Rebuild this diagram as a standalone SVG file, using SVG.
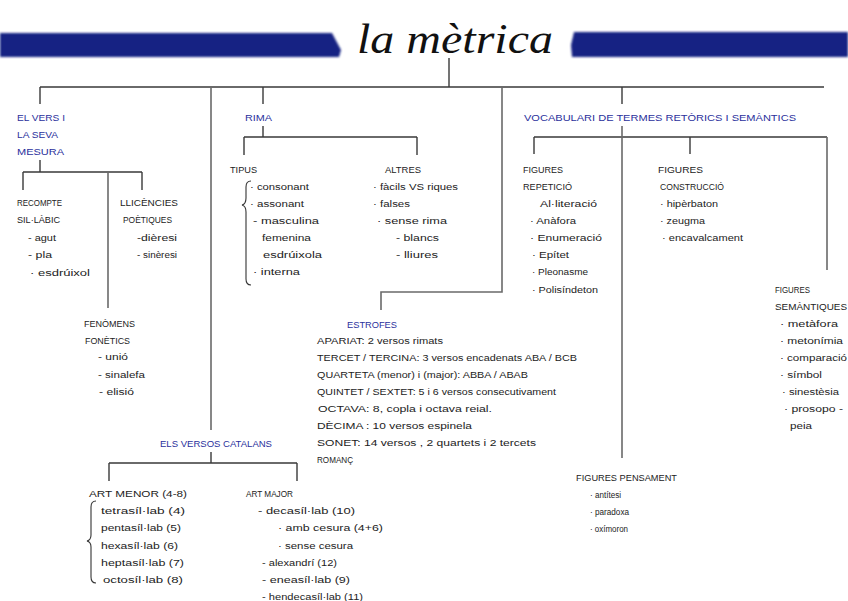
<svg xmlns="http://www.w3.org/2000/svg" width="848" height="601" viewBox="0 0 848 601">
<style>
.t{font-family:"Liberation Sans","DejaVu Sans",sans-serif;font-size:8.5px;fill:#222}
.b{font-family:"Liberation Sans","DejaVu Sans",sans-serif;font-size:8.5px;fill:#2a2f9c}
.ln{stroke:#3a3a3a;stroke-width:1.4;fill:none}
.lg{stroke:#6a6a6a;stroke-width:1.6;fill:none}
.br{stroke:#333;stroke-width:1.1;fill:none}
.bar{fill:#172383}
</style>
<defs>
<filter id="soft" x="-5%" y="-20%" width="110%" height="140%"><feGaussianBlur stdDeviation="0.8"/></filter>
</defs>
<rect width="848" height="601" fill="#ffffff"/>
<g id="title">
<polygon class="bar" filter="url(#soft)" points="0,33 332,33 341,50 339,57 0,57"/>
<polygon class="bar" filter="url(#soft)" points="574,32 848,32 848,57 572,57 571,45"/>
<text x="455" y="53" text-anchor="middle" font-family="Liberation Serif, serif" font-style="italic" font-size="42" fill="#111" textLength="196" lengthAdjust="spacingAndGlyphs">la mètrica</text>
</g>
<g id="connectors">
<path class="ln" d="M449 58V87M40 87H824M40 87V104M263 87V104M622 87V104"/>
<path class="lg" d="M211 87V430M502 87V292H381V310"/>
<path class="ln" d="M40 160V172M23 172H142M23 172V190M142 172V190"/>
<path class="lg" d="M108 172V308"/>
<path class="ln" d="M263 126V137M244 137H417M244 137V155M417 137V155"/>
<path class="ln" d="M534 137H827M534 137V154M690 137V154"/>
<path class="lg" d="M622 126V458M827 137V270"/>
<path class="ln" d="M211 452V463M109 463H297M109 463V481M297 463V481"/>
</g>
<g id="vers-mesura">
<text class="b" x="17" y="121" textLength="48" lengthAdjust="spacingAndGlyphs">EL VERS I</text>
<text class="b" x="17" y="138" textLength="41" lengthAdjust="spacingAndGlyphs">LA SEVA</text>
<text class="b" x="17" y="155" textLength="47" lengthAdjust="spacingAndGlyphs">MESURA</text>
</g>
<g id="recompte">
<text class="t" x="17" y="206" textLength="45" lengthAdjust="spacingAndGlyphs">RECOMPTE</text>
<text class="t" x="17" y="223" textLength="43" lengthAdjust="spacingAndGlyphs">SIL·LÀBIC</text>
<text class="t" x="28" y="241" textLength="28" lengthAdjust="spacingAndGlyphs">- agut</text>
<text class="t" x="28" y="258" textLength="24" lengthAdjust="spacingAndGlyphs">- pla</text>
<text class="t" x="30" y="276" textLength="60" lengthAdjust="spacingAndGlyphs">· esdrúixol</text>
</g>
<g id="llicencies">
<text class="t" x="120" y="206" textLength="58" lengthAdjust="spacingAndGlyphs">LLICÈNCIES</text>
<text class="t" x="123" y="223" textLength="49" lengthAdjust="spacingAndGlyphs">POÈTIQUES</text>
<text class="t" x="137" y="241" textLength="40" lengthAdjust="spacingAndGlyphs">-dièresi</text>
<text class="t" x="137" y="258" textLength="40" lengthAdjust="spacingAndGlyphs">- sinèresi</text>
</g>
<g id="fenomens">
<text class="t" x="84" y="327" textLength="51" lengthAdjust="spacingAndGlyphs">FENÒMENS</text>
<text class="t" x="85" y="344" textLength="45" lengthAdjust="spacingAndGlyphs">FONÈTICS</text>
<text class="t" x="98" y="360" textLength="30" lengthAdjust="spacingAndGlyphs">- unió</text>
<text class="t" x="98" y="378" textLength="47" lengthAdjust="spacingAndGlyphs">- sinalefa</text>
<text class="t" x="99" y="395" textLength="35" lengthAdjust="spacingAndGlyphs">- elisió</text>
</g>
<g id="rima">
<text class="b" x="245" y="121" textLength="27" lengthAdjust="spacingAndGlyphs">RIMA</text>
</g>
<g id="tipus">
<text class="t" x="230" y="173" textLength="27" lengthAdjust="spacingAndGlyphs">TIPUS</text>
<path class="br" d="M251 181Q246 181 246 187V198Q246 204 242 205Q246 206 246 212V279Q246 285 251 285"/>
<text class="t" x="250" y="190" textLength="59" lengthAdjust="spacingAndGlyphs">· consonant</text>
<text class="t" x="250" y="207" textLength="54" lengthAdjust="spacingAndGlyphs">· assonant</text>
<text class="t" x="253" y="224" textLength="66" lengthAdjust="spacingAndGlyphs">-  masculina</text>
<text class="t" x="262" y="241" textLength="49" lengthAdjust="spacingAndGlyphs">femenina</text>
<text class="t" x="263" y="258" textLength="59" lengthAdjust="spacingAndGlyphs">esdrúixola</text>
<text class="t" x="253" y="275" textLength="47" lengthAdjust="spacingAndGlyphs">· interna</text>
</g>
<g id="altres">
<text class="t" x="385" y="173" textLength="36" lengthAdjust="spacingAndGlyphs">ALTRES</text>
<text class="t" x="373" y="190" textLength="85" lengthAdjust="spacingAndGlyphs">· fàcils  VS riques</text>
<text class="t" x="373" y="207" textLength="37" lengthAdjust="spacingAndGlyphs">· falses</text>
<text class="t" x="377" y="224" textLength="70" lengthAdjust="spacingAndGlyphs">· sense  rima</text>
<text class="t" x="396" y="241" textLength="43" lengthAdjust="spacingAndGlyphs">- blancs</text>
<text class="t" x="396" y="258" textLength="42" lengthAdjust="spacingAndGlyphs">- lliures</text>
</g>
<g id="estrofes">
<text class="b" x="347" y="328" textLength="50" lengthAdjust="spacingAndGlyphs">ESTROFES</text>
<text class="t" x="317" y="344" textLength="126" lengthAdjust="spacingAndGlyphs">APARIAT: 2 versos rimats</text>
<text class="t" x="317" y="361" textLength="260" lengthAdjust="spacingAndGlyphs">TERCET / TERCINA: 3 versos encadenats  ABA / BCB</text>
<text class="t" x="317" y="378" textLength="211" lengthAdjust="spacingAndGlyphs">QUARTETA (menor) i (major): ABBA / ABAB</text>
<text class="t" x="317" y="395" textLength="239" lengthAdjust="spacingAndGlyphs">QUINTET / SEXTET: 5 i 6 versos consecutivament</text>
<text class="t" x="318" y="412" textLength="174" lengthAdjust="spacingAndGlyphs">OCTAVA: 8, copla  i  octava  reial.</text>
<text class="t" x="317" y="429" textLength="155" lengthAdjust="spacingAndGlyphs">DÈCIMA : 10  versos  espinela</text>
<text class="t" x="317" y="446" textLength="219" lengthAdjust="spacingAndGlyphs">SONET: 14 versos , 2 quartets  i  2 tercets</text>
<text class="t" x="317" y="463" textLength="36" lengthAdjust="spacingAndGlyphs">ROMANÇ</text>
</g>
<g id="vocabulari">
<text class="b" x="524" y="121" textLength="272" lengthAdjust="spacingAndGlyphs">VOCABULARI  DE  TERMES  RETÒRICS  I  SEMÀNTICS</text>
</g>
<g id="figures-repeticio">
<text class="t" x="523" y="173" textLength="40" lengthAdjust="spacingAndGlyphs">FIGURES</text>
<text class="t" x="523" y="190" textLength="49" lengthAdjust="spacingAndGlyphs">REPETICIÓ</text>
<text class="t" x="540" y="207" textLength="57" lengthAdjust="spacingAndGlyphs">Al·literació</text>
<text class="t" x="530" y="224" textLength="46" lengthAdjust="spacingAndGlyphs">· Anàfora</text>
<text class="t" x="530" y="241" textLength="72" lengthAdjust="spacingAndGlyphs">· Enumeració</text>
<text class="t" x="532" y="258" textLength="37" lengthAdjust="spacingAndGlyphs">· Epítet</text>
<text class="t" x="532" y="275" textLength="56" lengthAdjust="spacingAndGlyphs">· Pleonasme</text>
<text class="t" x="532" y="293" textLength="66" lengthAdjust="spacingAndGlyphs">· Polisíndeton</text>
</g>
<g id="figures-construccio">
<text class="t" x="658" y="173" textLength="45" lengthAdjust="spacingAndGlyphs">FIGURES</text>
<text class="t" x="660" y="190" textLength="64" lengthAdjust="spacingAndGlyphs">CONSTRUCCIÓ</text>
<text class="t" x="660" y="207" textLength="58" lengthAdjust="spacingAndGlyphs">· hipèrbaton</text>
<text class="t" x="660" y="224" textLength="45" lengthAdjust="spacingAndGlyphs">· zeugma</text>
<text class="t" x="662" y="241" textLength="81" lengthAdjust="spacingAndGlyphs">· encavalcament</text>
</g>
<g id="figures-semantiques">
<text class="t" x="775" y="293" textLength="35" lengthAdjust="spacingAndGlyphs">FIGURES</text>
<text class="t" x="775" y="310" textLength="72" lengthAdjust="spacingAndGlyphs">SEMÀNTIQUES</text>
<text class="t" x="780" y="327" textLength="58" lengthAdjust="spacingAndGlyphs">· metàfora</text>
<text class="t" x="780" y="344" textLength="63" lengthAdjust="spacingAndGlyphs">· metonímia</text>
<text class="t" x="780" y="361" textLength="67" lengthAdjust="spacingAndGlyphs">· comparació</text>
<text class="t" x="780" y="378" textLength="42" lengthAdjust="spacingAndGlyphs">· símbol</text>
<text class="t" x="782" y="395" textLength="57" lengthAdjust="spacingAndGlyphs">· sinestèsia</text>
<text class="t" x="784" y="412" textLength="59" lengthAdjust="spacingAndGlyphs">· prosopo -</text>
<text class="t" x="790" y="429" textLength="22" lengthAdjust="spacingAndGlyphs">peia</text>
</g>
<g id="figures-pensament">
<text class="t" x="576" y="481" textLength="101" lengthAdjust="spacingAndGlyphs">FIGURES  PENSAMENT</text>
<text class="t" x="590" y="498" textLength="31" lengthAdjust="spacingAndGlyphs">· antítesi</text>
<text class="t" x="590" y="515" textLength="39" lengthAdjust="spacingAndGlyphs">· paradoxa</text>
<text class="t" x="590" y="532" textLength="38" lengthAdjust="spacingAndGlyphs">· oxímoron</text>
</g>
<g id="versos-catalans">
<text class="b" x="160" y="447" textLength="112" lengthAdjust="spacingAndGlyphs">ELS  VERSOS  CATALANS</text>
</g>
<g id="art-menor">
<text class="t" x="89" y="497" textLength="98" lengthAdjust="spacingAndGlyphs">ART MENOR  (4-8)</text>
<path class="br" d="M96 501Q91 501 91 507V535Q91 540 87 541Q91 542 91 547V577Q91 583 96 583"/>
<text class="t" x="101" y="514" textLength="84" lengthAdjust="spacingAndGlyphs">tetrasíl·lab (4)</text>
<text class="t" x="101" y="531" textLength="80" lengthAdjust="spacingAndGlyphs">pentasíl·lab (5)</text>
<text class="t" x="101" y="549" textLength="77" lengthAdjust="spacingAndGlyphs">hexasíl·lab (6)</text>
<text class="t" x="101" y="566" textLength="83" lengthAdjust="spacingAndGlyphs">heptasíl·lab (7)</text>
<text class="t" x="103" y="583" textLength="80" lengthAdjust="spacingAndGlyphs">octosíl·lab (8)</text>
</g>
<g id="art-major">
<text class="t" x="246" y="497" textLength="47" lengthAdjust="spacingAndGlyphs">ART MAJOR</text>
<text class="t" x="258" y="514" textLength="97" lengthAdjust="spacingAndGlyphs">- decasíl·lab (10)</text>
<text class="t" x="278" y="531" textLength="105" lengthAdjust="spacingAndGlyphs">· amb cesura (4+6)</text>
<text class="t" x="278" y="549" textLength="75" lengthAdjust="spacingAndGlyphs">· sense  cesura</text>
<text class="t" x="262" y="566" textLength="75" lengthAdjust="spacingAndGlyphs">-  alexandrí (12)</text>
<text class="t" x="262" y="583" textLength="88" lengthAdjust="spacingAndGlyphs">- eneasíl·lab (9)</text>
<text class="t" x="262" y="600" textLength="101" lengthAdjust="spacingAndGlyphs">- hendecasíl·lab (11)</text>
</g>
</svg>
